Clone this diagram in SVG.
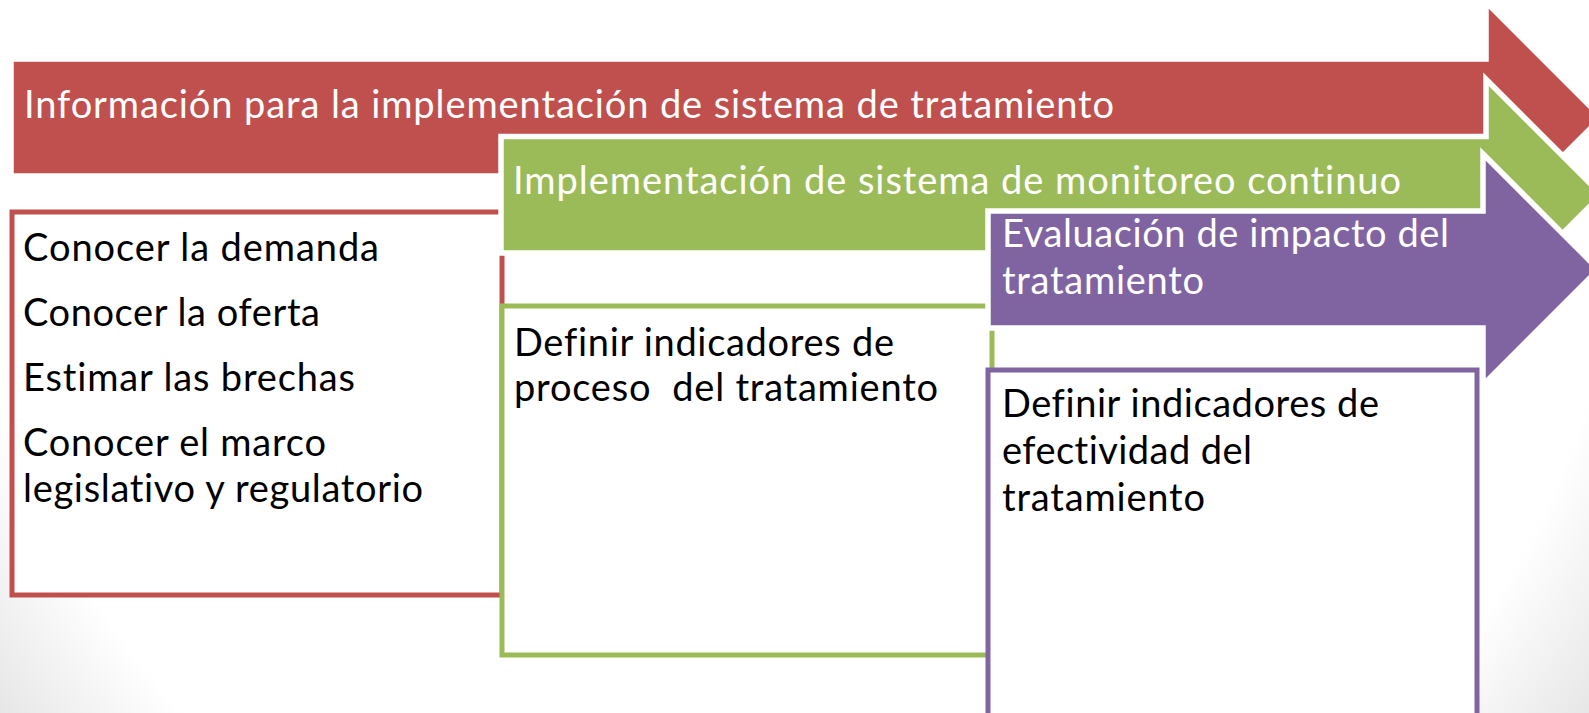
<svg xmlns="http://www.w3.org/2000/svg" width="1589" height="713" viewBox="0 0 1589 713">
<defs>
<radialGradient id="bg" gradientUnits="userSpaceOnUse" cx="795" cy="150" r="1000">
<stop offset="0.83" stop-color="#ffffff"/>
<stop offset="1" stop-color="#e2e2e2"/>
</radialGradient>
</defs>
<style>
.arrow{stroke:#ffffff;stroke-width:5.5;stroke-linejoin:miter}
.box{fill:#ffffff;stroke-width:5}
.red{fill:#C0504D}
.green{fill:#9BBB59}
.purple{fill:#8064A2}
.bred{stroke:#C0504D}
.bgreen{stroke:#9BBB59}
.bpurple{stroke:#8064A2}
.t{font-family:Lato,"Liberation Sans",sans-serif;font-size:38px;font-variant-ligatures:none;font-feature-settings:"liga" 0,"dlig" 0}
.tw{fill:#ffffff}
.tb{fill:#000000}
</style>
<rect x="0" y="0" width="1589" height="713" fill="url(#bg)"/>
<g id="arrow-informacion">
<path class="arrow red" d="M11,59 H1486 V2 L1601.5,117.5 L1486,233 V176 H11 Z"/>
<text class="t tw" x="24" y="118" textLength="1090">Información para la implementación de sistema de tratamiento</text>
</g>
<g id="box-informacion">
<rect class="box bred" x="12" y="212" width="490" height="383"/>
<text class="t tb" x="23" y="261" textLength="356">Conocer la demanda</text>
<text class="t tb" x="23" y="326" textLength="297">Conocer la oferta</text>
<text class="t tb" x="23" y="391" textLength="332">Estimar las brechas</text>
<text class="t tb" x="23" y="456" textLength="303">Conocer el marco</text>
<text class="t tb" x="23" y="502" textLength="400">legislativo y regulatorio</text>
</g>
<g id="arrow-monitoreo">
<path class="arrow green" d="M501,136.5 H1486 V79.25 L1601.5,194.75 L1486,310.25 V253 H501 Z"/>
<text class="t tw" x="513" y="194" textLength="888">Implementación de sistema de monitoreo continuo</text>
</g>
<g id="box-monitoreo">
<rect class="box bgreen" x="502" y="306" width="490" height="349"/>
<text class="t tb" x="514" y="356" textLength="380">Definir indicadores de</text>
<text class="t tb" x="514" y="401" textLength="424" xml:space="preserve">proceso  del tratamiento</text>
</g>
<g id="arrow-evaluacion">
<path class="arrow purple" d="M988,211 H1483 V154 L1598.5,269.5 L1483,385 V328 H988 Z"/>
<text class="t tw" x="1002" y="247" textLength="447">Evaluación de impacto del</text>
<text class="t tw" x="1002" y="294" textLength="202">tratamiento</text>
</g>
<g id="box-evaluacion">
<rect class="box bpurple" x="988" y="370" width="489" height="400"/>
<text class="t tb" x="1002" y="417" textLength="377">Definir indicadores de</text>
<text class="t tb" x="1002" y="464" textLength="250">efectividad del</text>
<text class="t tb" x="1002" y="511" textLength="203">tratamiento</text>
</g>
<g id="connectors"/>
</svg>
